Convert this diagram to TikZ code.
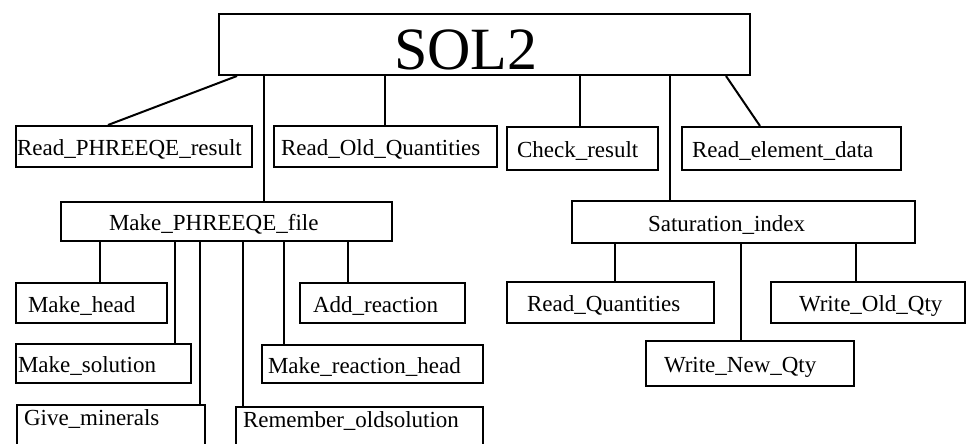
\documentclass[tikz,border=0pt]{standalone}
\usepackage{fontspec}
\setmainfont{Liberation Serif}
\usetikzlibrary{calc}
\hyphenpenalty=10000
\newcommand{\blkfont}{\fontsize{23}{26}\selectfont}
\newcommand{\topfont}{\fontsize{60}{62}\selectfont}
\tikzset{
  blk/.style={draw,line width=2pt,anchor=north west,inner ysep=0pt,align=left,
    font=\blkfont,text height=20pt,text depth=2pt},
  cut/.style={text depth=40pt},
  lnk/.style={line width=2pt}
}
\begin{document}
\begin{tikzpicture}[x=1pt,y=-1pt]
\useasboundingbox (0,0) rectangle (966,444);
\clip (0,0) rectangle (966,444);
% top
\node [blk,font=\topfont,text height=50pt,text depth=0pt,minimum height=61pt,inner xsep=175pt,text width=181pt] (sol) at (218,13) {SOL2};
% first level
\node [blk,minimum height=41pt,inner xsep=1pt,text width=234pt]  (rres)  at (15,125)  {Read\_PHREEQE\_result};
\node [blk,minimum height=41pt,inner xsep=7pt,text width=209pt]  (rold)  at (273,125) {Read\_Old\_Quantities};
\node [blk,minimum height=43pt,inner xsep=10pt,text width=131pt] (chk)   at (506,126) {Check\_result};
\node [blk,minimum height=43pt,inner xsep=10pt,text width=199pt] (relem) at (681,126) {Read\_element\_data};
\node [blk,minimum height=39pt,inner xsep=48pt,text width=235pt] (mkfile) at (60,201) {Make\_PHREEQE\_file};
\node [blk,minimum height=42pt,inner xsep=76pt,text width=191pt] (satidx) at (571,200) {Saturation\_index};
% under Make_PHREEQE_file
\node [blk,minimum height=40pt,inner xsep=12pt,text width=127pt] (mkhead) at (15,282)  {Make\_head};
\node [blk,minimum height=40pt,inner xsep=13pt,text width=139pt] (addrx)  at (299,282) {Add\_reaction};
\node [blk,minimum height=39pt,inner xsep=2pt,text width=171pt]  (mksol)  at (15,343)  {Make\_solution};
\node [blk,minimum height=38pt,inner xsep=6pt,text width=209pt]  (mkrxh)  at (261,344) {Make\_reaction\_head};
\node [blk,cut,inner xsep=7pt,text width=174pt]  (give)  at (16,404)  {Give\_minerals};
\node [blk,cut,inner xsep=7pt,text width=233pt]  (remem) at (235,406) {Remember\_oldsolution};
% under Saturation_index
\node [blk,minimum height=41pt,inner xsep=20pt,text width=167pt] (rqty) at (506,281) {Read\_Quantities};
\node [blk,minimum height=41pt,inner xsep=28pt,text width=138pt] (wold) at (770,281) {Write\_Old\_Qty};
\node [blk,minimum height=45pt,inner xsep=18pt,text width=172pt] (wnew) at (645,340) {Write\_New\_Qty};
% links
\foreach \p/\c/\x in {sol/mkfile/264,sol/rold/385,sol/chk/580,sol/satidx/670,
    mkfile/mkhead/100,mkfile/mksol/175,mkfile/give/200,mkfile/remem/243,
    mkfile/mkrxh/284,mkfile/addrx/348,
    satidx/rqty/615,satidx/wnew/741,satidx/wold/856}
{
  \path (\x,0) coordinate (k);
  \draw [lnk] (k |- \p.south) -- (k |- \c.north);
}
\draw [lnk] ($(sol.south west)+(19,0)$) -- ($(rres.north west)+(93,0)$);
\draw [lnk] ($(sol.south west)+(508,0)$) -- ($(relem.north west)+(79,0)$);
\end{tikzpicture}
\end{document}
